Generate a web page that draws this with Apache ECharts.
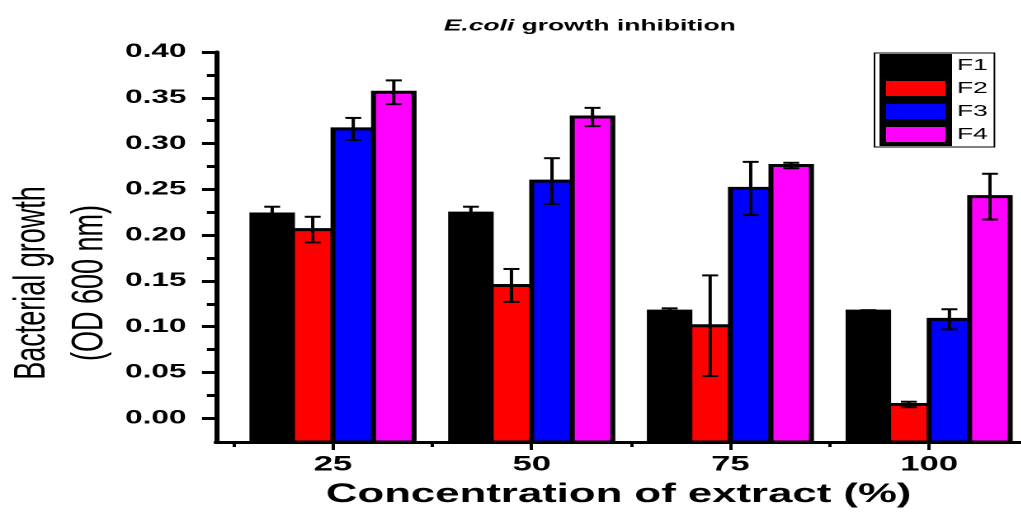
<!DOCTYPE html>
<html>
<head>
<meta charset="utf-8">
<script src="https://cdn.jsdelivr.net/npm/echarts@6/dist/echarts.min.js"></script>
<style>
html, body { margin: 0; padding: 0; overflow: hidden; background: #fff; }
#chart { width: 618.8px; height: 513px; transform: scaleX(1.65); transform-origin: 0 0; }
</style>
</head>
<body>
<div id="chart"></div>
<script>
// ---- data ----
const categories = [25, 50, 75, 100];
const seriesNames = ['F1', 'F2', 'F3', 'F4'];
const F1 = [0.223, 0.224, 0.117, 0.117];
const F1_err = [0.008, 0.007, 0.003, 0.001];
const F2 = [0.206, 0.145, 0.101, 0.015];
const F2_err = [0.014, 0.018, 0.055, 0.003];
const F3 = [0.316, 0.259, 0.251, 0.108];
const F3_err = [0.012, 0.025, 0.029, 0.011];
const F4 = [0.356, 0.329, 0.276, 0.242];
const F4_err = [0.013, 0.010, 0.003, 0.025];
const yTickValues = [0, 0.05, 0.10, 0.15, 0.20, 0.25, 0.30, 0.35, 0.40];
const yMinorTickValues = [0.025, 0.075, 0.125, 0.175, 0.225, 0.275, 0.325, 0.375];
const xTickValues = [25, 50, 75, 100];
const xMinorTickValues = [12.5, 37.5, 62.5, 87.5];

// ---- styling / layout ----
const FONT = 'Arial, "Liberation Sans", Helvetica, sans-serif';
const colors = ['#000000', '#ff0000', '#0000ff', '#ff00ff'];
const X_MIN = 10.28, X_MAX = 111.6, Y_MIN = -0.026, Y_MAX = 0.40;
const BAR_W = 5.1, CAP_W = 2.0;

const values = [F1, F2, F3, F4];
const errors = [F1_err, F2_err, F3_err, F4_err];

function makeRender(si) {
  return function (params, api) {
    const x = api.value(0), v = api.value(1), e = api.value(2);
    const cx = x + (si - 1.5) * BAR_W;
    const tl = api.coord([cx - BAR_W / 2, v]);
    const br = api.coord([cx + BAR_W / 2, Y_MIN]);
    const top = api.coord([cx, v + e]);
    const bot = api.coord([cx, v - e]);
    const capL = api.coord([cx - CAP_W / 2, v])[0];
    const capR = api.coord([cx + CAP_W / 2, v])[0];
    const lineStyle = { stroke: '#000', lineWidth: 2 };
    return {
      type: 'group',
      children: [
        { type: 'rect', shape: { x: tl[0], y: tl[1], width: br[0] - tl[0], height: br[1] - tl[1] },
          style: { fill: colors[si], stroke: '#000', lineWidth: 3 } },
        { type: 'line', shape: { x1: top[0], y1: top[1], x2: bot[0], y2: bot[1] }, style: lineStyle },
        { type: 'line', shape: { x1: capL, y1: top[1], x2: capR, y2: top[1] }, style: lineStyle },
        { type: 'line', shape: { x1: capL, y1: bot[1], x2: capR, y2: bot[1] }, style: lineStyle }
      ]
    };
  };
}

const series = seriesNames.map(function (name, si) {
  return {
    type: 'custom',
    name: name,
    xAxisIndex: 0,
    yAxisIndex: 0,
    itemStyle: { color: colors[si] },
    renderItem: makeRender(si),
    data: categories.map(function (c, i) { return [c, values[si][i], errors[si][i]]; }),
    clip: false
  };
});

const chart = echarts.init(document.getElementById('chart'), null, { renderer: 'canvas', devicePixelRatio: 2 });
chart.setOption({
  animation: false,
  backgroundColor: '#fff',
  title: {
    text: '{i|E.coli} growth inhibition',
    left: 264,
    top: 13,
    textStyle: {
      fontFamily: FONT, fontSize: 16, fontWeight: 'bold', color: '#000',
      rich: { i: { fontFamily: FONT, fontSize: 16, fontStyle: 'italic', fontWeight: 'bold', color: '#000' } }
    }
  },
  legend: {
    orient: 'vertical',
    left: 530,
    top: 53,
    padding: [1, 4, 1, 3],
    borderColor: '#000',
    borderWidth: 1,
    icon: 'rect',
    itemWidth: 40,
    itemHeight: 19,
    itemGap: 0,
    itemStyle: { borderColor: '#000', borderWidth: 4 },
    textStyle: { fontFamily: FONT, fontSize: 16, lineHeight: 19, color: '#000' },
    data: seriesNames.map(function (n, i) { return { name: n, itemStyle: { color: colors[i] } }; })
  },
  grid: {
    left: 130.9, right: 0, top: 52, bottom: 71,
    containLabel: false, outerBoundsMode: 'none'
  },
  xAxis: [
    {
      type: 'value', position: 'bottom', min: X_MIN, max: X_MAX,
      name: 'Concentration of extract (%)', nameLocation: 'middle', nameGap: 39,
      nameTextStyle: { fontFamily: FONT, fontSize: 26.5, fontWeight: 'bold', color: '#000' },
      axisLine: { show: true, onZero: false, lineStyle: { color: '#000', width: 3 } },
      axisTick: { show: true, customValues: xTickValues, length: 8, lineStyle: { color: '#000', width: 2 } },
      axisLabel: { show: true, customValues: xTickValues, margin: 12,
        fontFamily: FONT, fontSize: 21, fontWeight: 'bold', color: '#000' },
      splitLine: { show: false }
    },
    {
      type: 'value', position: 'bottom', min: X_MIN, max: X_MAX,
      axisLine: { show: false, onZero: false },
      axisTick: { show: true, customValues: xMinorTickValues, length: 5, lineStyle: { color: '#000', width: 2 } },
      axisLabel: { show: false },
      splitLine: { show: false }
    }
  ],
  yAxis: [
    {
      type: 'value', position: 'left', min: Y_MIN, max: Y_MAX,
      name: 'Bacterial growth\n(OD 600 nm)', nameLocation: 'middle', nameGap: 59,
      nameMoveOverlap: false,
      nameTextStyle: { fontFamily: FONT, fontSize: 27, lineHeight: 35, color: '#000', padding: [0, 72, 0, 0] },
      axisLine: { show: true, onZero: false, lineStyle: { color: '#000', width: 3 } },
      axisTick: { show: true, customValues: yTickValues, length: 8.5, lineStyle: { color: '#000', width: 3 } },
      axisLabel: { show: true, customValues: yTickValues, margin: 18,
        formatter: function (v) { return v.toFixed(2); },
        fontFamily: FONT, fontSize: 19, fontWeight: 'bold', color: '#000' },
      splitLine: { show: false }
    },
    {
      type: 'value', position: 'left', min: Y_MIN, max: Y_MAX,
      axisLine: { show: false, onZero: false },
      axisTick: { show: true, customValues: yMinorTickValues, length: 5.5, lineStyle: { color: '#000', width: 3 } },
      axisLabel: { show: false },
      splitLine: { show: false }
    }
  ],
  series: series
});
</script>
</body>
</html>
